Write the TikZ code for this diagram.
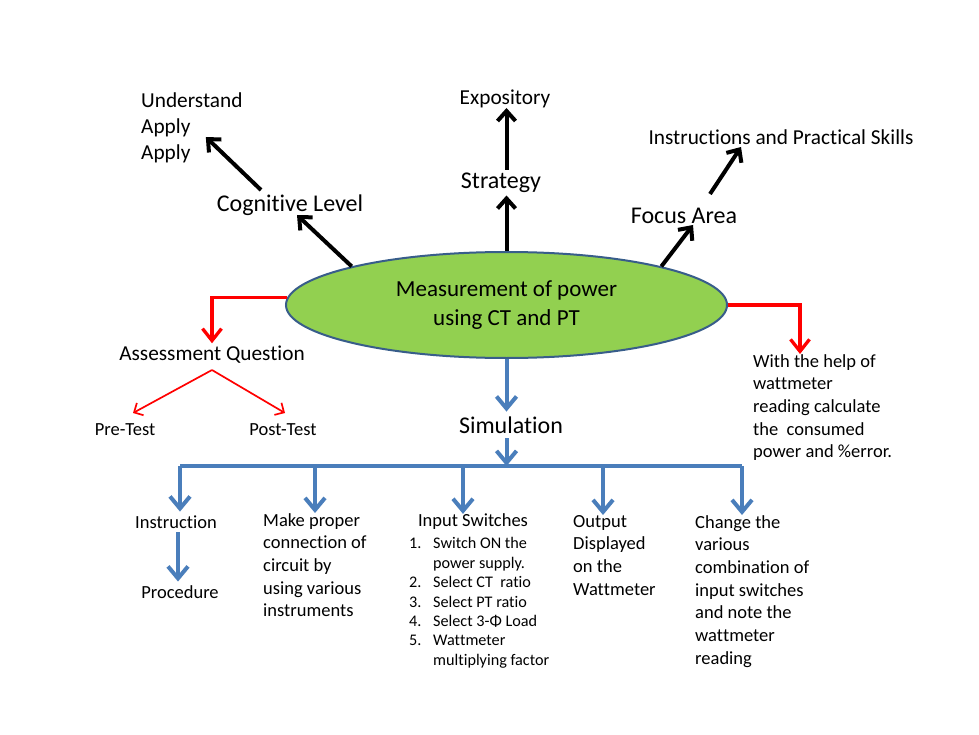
\documentclass[tikz,border=0pt]{standalone}
\usepackage{fontspec}
\setmainfont{Carlito}[RawFeature={-liga;-clig;-calt;-dlig}]
\usetikzlibrary{arrows.meta,shapes.geometric}
\XeTeXinterchartokenstate=1
\newXeTeXintercharclass\myTclass
\newXeTeXintercharclass\myIclass
\newXeTeXintercharclass\myFclass
\XeTeXcharclass`t=\myTclass
\XeTeXcharclass`i=\myIclass
\XeTeXcharclass`f=\myFclass
\XeTeXinterchartoks\myTclass\myTclass={\kern0pt }
\XeTeXinterchartoks\myTclass\myIclass={\kern0pt }
\XeTeXinterchartoks\myFclass\myTclass={\kern0pt }
\XeTeXinterchartoks\myFclass\myIclass={\kern0pt }
\definecolor{ellfill}{HTML}{92D050}
\definecolor{elldraw}{HTML}{385D8A}
\definecolor{bluearr}{HTML}{4A7EBB}
\definecolor{redarr}{HTML}{FF0000}
\tikzset{
  tbig/.style={inner sep=0pt, font=\fontsize{24}{29}\selectfont},
  tmid/.style={inner sep=0pt, font=\fontsize{21.3}{26}\selectfont},
  tsmall/.style={inner sep=0pt, font=\fontsize{18.5}{22.7}\selectfont},
  tlist/.style={inner sep=0pt, align=left, font=\fontsize{16.2}{19.4}\selectfont},
  ellnode/.style={ellipse, draw=elldraw, fill=ellfill, line width=2pt,
    minimum width=441pt, minimum height=106pt, inner sep=0pt, align=center,
    font=\fontsize{23}{29}\selectfont},
  blk/.style={line width=4pt, -{Straight Barb[length=10pt,width=18pt]}},
  barline/.style={draw=bluearr, line width=4pt},
  barr/.style={draw=bluearr, line width=4pt, -{Straight Barb[length=12pt,width=20pt]}},
  rthick/.style={draw=redarr, line width=3.3pt, -{Straight Barb[length=12pt,width=19pt]}},
  rthin/.style={draw=redarr, line width=1.7pt, -{Straight Barb[length=7pt,width=14pt]}},
}
\begin{document}
\begin{tikzpicture}[x=1pt,y=-1pt]
\useasboundingbox[fill=white] (0,0) rectangle (979,735);

% central node
\node[ellnode] (ell) at (506.5,305) {Measurement of power\\using CT and PT};

% top labels
\node[tbig] (cog) at (290,205) {Cognitive Level};
\node[tmid, align=left, anchor=west] (und) at (141,128) {Understand\\Apply\\Apply};
\node[tbig] (str) at (501,183) {Strategy};
\node[tmid] (exp) at (505,99) {Expository};
\node[tbig] (foc) at (684,216) {Focus Area};
\node[tmid] (ins) at (781,137) {Instructions and Practical Skills};

% left assessment
\node[tmid, outer sep=3pt] (aq) at (212,355) {Assessment Question};
\node[tsmall] (pre) at (125,430) {Pre-Test};
\node[tsmall] (post) at (283,430) {Post-Test};

% right text
\node[tsmall, align=left, anchor=north west] (wth) at (753,354)
  {With the help of\\wattmeter\\reading calculate\\the\ \ consumed\\power and \%error.};

% simulation
\node[tbig, outer sep=5pt] (sim) at (511,425) {Simulation};

% bottom row
\node[tsmall, outer sep=4pt] (inst) at (176,522) {Instruction};
\node[tsmall, outer sep=4pt] (proc) at (180,592) {Procedure};
\node[tsmall, align=left, anchor=north west] (mk) at (263,513)
  {Make proper\\connection of\\circuit by\\using various\\instruments};
\node[tsmall] (isw) at (473,522) {Input Switches};
\node[tlist, anchor=north west] (lst) at (409,537.5)
  {\makebox[24pt][l]{1.}Switch ON the\\
   \hspace*{24pt}power supply.\\
   \makebox[24pt][l]{2.}Select CT\ \ ratio\\
   \makebox[24pt][l]{3.}Select PT ratio\\
   \makebox[24pt][l]{4.}Select 3-Φ Load\\
   \makebox[24pt][l]{5.}Wattmeter\\
   \hspace*{24pt}multiplying factor};
\node[tsmall, align=left, anchor=north west] (out) at (573,515)
  {Output\\Displayed\\on the\\Wattmeter};
\node[tsmall, align=left, anchor=north west] (chg) at (695,515)
  {Change the\\various\\combination of\\input switches\\and note the\\wattmeter\\reading};

% black arrows
\draw[blk] (ell.166) -- ([shift={(7,10)}]cog.center);
\draw[blk] ([shift={(-29,-15)}]cog.center) -- ([shift={(14,9)}]und.center);
\draw[blk] (ell.north) -- ([shift={(5.5,12.5)}]str.center);
\draw[blk] ([shift={(5.5,-13)}]str.center) -- ([shift={(1.5,9)}]exp.center);
\draw[blk] (ell.14) -- ([shift={(9,9)}]foc.center);
\draw[blk] ([shift={(26,-22)}]foc.center) -- ([shift={(-40,10)}]ins.center);

% red arrows
\draw[rthick] (ell.178) -| (aq.north);
\draw[rthick] (ell.east) -| ([xshift=47pt]wth.north west);
\draw[rthin] ([yshift=-15pt]aq.center) -- ([shift={(8,-17)}]pre.center);
\draw[rthin] ([yshift=-15pt]aq.center) -- ([shift={(2,-17)}]post.center);

% blue arrows
\coordinate (bl) at (180,466);
\coordinate (b2) at (315,466);
\coordinate (b3) at (463,466);
\coordinate (b4) at (603,466);
\coordinate (br) at (742,466);
\draw[barr] (ell.south) -- (ell.south |- sim.north);
\draw[barr] (ell.south |- sim.south) -- (ell.south |- bl);
\draw[barline] (bl) -- (br);
\draw[barr] (bl) -- (bl |- inst.north);
\draw[barr] (b2) -- (b2 |- mk.north);
\draw[barr] (b3) -- (b3 |- isw.north);
\draw[barr] (b4) -- (b4 |- out.north);
\draw[barr] (br) -- (br |- chg.north);
\draw[barr] ([xshift=2pt]inst.south) -- ([xshift=2pt]inst.south |- proc.north);
\end{tikzpicture}
\end{document}
